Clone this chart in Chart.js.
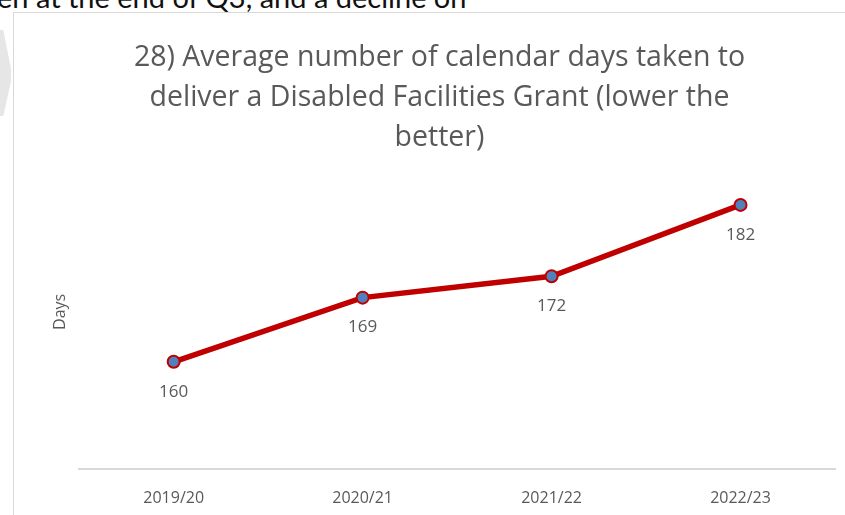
<!DOCTYPE html>
<html>
<head>
<meta charset="utf-8">
<script src="https://cdn.jsdelivr.net/npm/chart.js@4"></script>
<style>
  html, body { margin: 0; padding: 0; background: #fff; overflow: hidden; }
  body { width: 845px; height: 515px; position: relative; font-family: Lato, "Open Sans", sans-serif; }
  #cutText { position: absolute; left: -3px; top: -21px; font-size: 29px; color: #111; white-space: nowrap; }
  #chevron { position: absolute; left: 0; top: 30px; width: 11px; height: 86px; background: #e6e6e6;
    clip-path: polygon(0 0, 30% 0, 100% 45%, 100% 60%, 30% 100%, 0 100%); }
  #box { position: absolute; left: 13px; top: 12px; width: 840px; height: 520px; border: 1px solid #d9d9d9; }
  #wrap { position: absolute; left: 14px; top: 13px; width: 831px; height: 517px; }
</style>
</head>
<body>
<div id="cutText">en at the end of Q3, and a decline on</div>
<div id="chevron"></div>
<div id="box"></div>
<div id="wrap"><canvas id="daysChart"></canvas></div>
<script>
// 数据
const years = ['2019/20', '2020/21', '2021/22', '2022/23'];
const avgDays = [160, 169, 172, 182];
const titleLines = ['28) Average number of calendar days taken to', 'deliver a Disabled Facilities Grant (lower the', 'better)'];

// 数据标签（画在点的下方）
const pointLabels = {
  id: 'pointLabels',
  afterDatasetsDraw(chart) {
    const ctx = chart.ctx;
    const meta = chart.getDatasetMeta(0);
    ctx.save();
    ctx.fillStyle = '#595959';
    ctx.font = '17px "Open Sans", sans-serif';
    ctx.textAlign = 'center';
    ctx.textBaseline = 'middle';
    meta.data.forEach((pt, i) => {
      ctx.fillText(chart.data.datasets[0].data[i], pt.x, pt.y + 30);
    });
    ctx.restore();
  }
};

window.addEventListener('DOMContentLoaded', () => {
  const ctx = document.getElementById('daysChart').getContext('2d');
  new Chart(ctx, {
    type: 'line',
    data: {
      labels: years,
      datasets: [{
        data: avgDays,
        borderColor: '#C00000',
        borderWidth: 5.5,
        pointBackgroundColor: '#4F81BD',
        pointBorderColor: '#C00000',
        pointBorderWidth: 2,
        pointRadius: 6,
        tension: 0
      }]
    },
    options: {
      responsive: true,
      maintainAspectRatio: false,
      animation: false,
      layout: { padding: { left: 30, right: 10, top: 25, bottom: 10 } },
      plugins: {
        legend: { display: false },
        tooltip: { enabled: false },
        title: {
          display: true,
          text: titleLines,
          color: '#595959',
          font: { size: 28.5, family: '"Open Sans", sans-serif', weight: 'normal', lineHeight: 40 / 28.5 },
          padding: { top: 0, bottom: -3 }
        }
      },
      scales: {
        x: {
          offset: true,
          grid: { display: false },
          border: { color: '#d9d9d9', width: 2 },
          ticks: { color: '#595959', font: { size: 16, family: '"Open Sans", sans-serif' }, padding: 12 }
        },
        y: {
          min: 145,
          max: 189,
          grid: { display: false },
          border: { display: false },
          ticks: { display: false },
          title: { display: true, text: 'Days', color: '#595959', padding: { top: 7, bottom: 1 }, font: { size: 16, family: '"Open Sans", sans-serif' } }
        }
      }
    },
    plugins: [pointLabels]
  });
});
</script>
</body>
</html>
